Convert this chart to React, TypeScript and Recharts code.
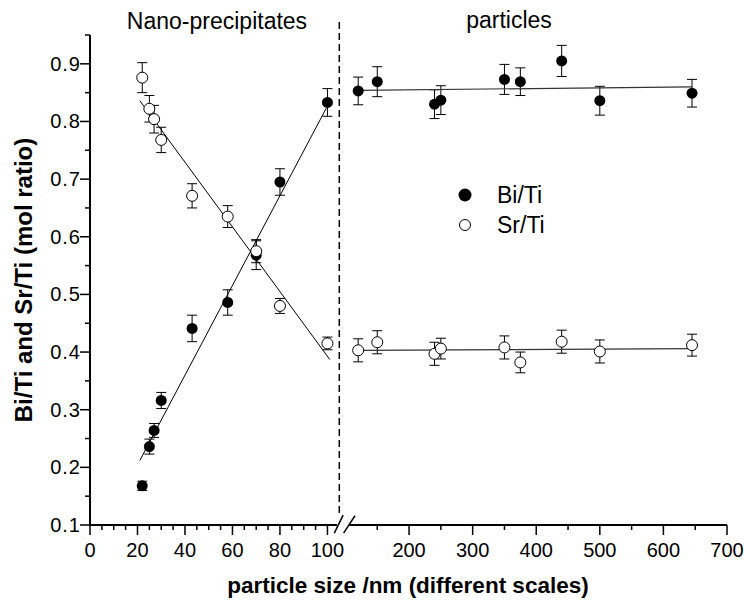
import React from 'react';
import { ScatterChart, Scatter, XAxis, YAxis, ErrorBar, ReferenceLine } from 'recharts';

const FONT = '"Liberation Sans", Arial, Helvetica, sans-serif';

// nano-precipitates (left, 0-100 nm scale)
const nanoSize = [22, 25, 27, 30, 43, 58, 70, 80, 100];
const nanoBiTi = [0.168, 0.236, 0.264, 0.316, 0.441, 0.486, 0.568, 0.695, 0.833];
const nanoBiErr = [0.008, 0.013, 0.012, 0.014, 0.023, 0.022, 0.025, 0.023, 0.024];
const nanoSrTi = [0.876, 0.822, 0.804, 0.768, 0.671, 0.635, 0.575, 0.48, 0.415];
const nanoSrErr = [0.026, 0.023, 0.024, 0.022, 0.021, 0.019, 0.02, 0.013, 0.011];

// particles (right, 100-700 nm scale)
const partSize = [120, 150, 240, 250, 350, 375, 440, 500, 645];
const partBiTi = [0.853, 0.869, 0.83, 0.837, 0.873, 0.869, 0.905, 0.836, 0.849];
const partBiErr = [0.024, 0.026, 0.025, 0.025, 0.026, 0.024, 0.027, 0.025, 0.024];
const partSrTi = [0.403, 0.417, 0.397, 0.406, 0.408, 0.382, 0.418, 0.401, 0.412];
const partSrErr = [0.02, 0.02, 0.02, 0.018, 0.02, 0.018, 0.02, 0.02, 0.019];

// fitted lines (end points)
const nanoBiFitX = [21, 99.5];
const nanoBiFitY = [0.212, 0.823];
const nanoSrFitX = [21, 101];
const nanoSrFitY = [0.836, 0.387];
const partBiFitX = [120, 645];
const partBiFitY = [0.854, 0.86];
const partSrFitX = [120, 645];
const partSrFitY = [0.403, 0.406];

// ticks
const nanoMajor = [0, 20, 40, 60, 80, 100];
const nanoMinor = [5, 10, 15, 25, 30, 35, 45, 50, 55, 65, 70, 75, 85, 90, 95];
const partMajor = [200, 300, 400, 500, 600, 700];
const partMinor = [150, 250, 350, 450, 550, 650];
const yMajor = [0.1, 0.2, 0.3, 0.4, 0.5, 0.6, 0.7, 0.8, 0.9];
const yMinor = [0.15, 0.25, 0.35, 0.45, 0.55, 0.65, 0.75, 0.85, 0.95];

// broken axis: nano values map 1:1, particle values are compressed after the break
const BREAK_U = 105;
const PART_ORIGIN_U = 107.6;
const PART_RATIO = 0.2678;
const nanoU = (v: number) => v;
const partU = (v: number) => PART_ORIGIN_U + (v - 100) * PART_RATIO;
const U_MAX = partU(700);

const points = (xs: number[], ys: number[], errs: number[], toU: (v: number) => number) =>
  xs.map((x, i) => ({ u: toU(x), y: ys[i], err: errs[i] }));
const fit = (xs: number[], ys: number[], toU: (v: number) => number) =>
  xs.map((x, i) => ({ u: toU(x), y: ys[i] }));

const biData = [
  ...points(nanoSize, nanoBiTi, nanoBiErr, nanoU),
  ...points(partSize, partBiTi, partBiErr, partU),
];
const srData = [
  ...points(nanoSize, nanoSrTi, nanoSrErr, nanoU),
  ...points(partSize, partSrTi, partSrErr, partU),
];

const xTickDefs = [
  ...nanoMajor.map((v) => ({ u: nanoU(v), label: String(v), major: true })),
  ...nanoMinor.map((v) => ({ u: nanoU(v), label: '', major: false })),
  ...partMajor.map((v) => ({ u: partU(v), label: String(v), major: true })),
  ...partMinor.map((v) => ({ u: partU(v), label: '', major: false })),
].sort((a, b) => a.u - b.u);

const yTicks = [...yMajor, ...yMinor].sort((a, b) => a - b);

const XTick = (props: any) => {
  const { x, y, payload } = props;
  const def = xTickDefs.find((d) => Math.abs(d.u - payload.value) < 1e-6);
  if (!def) return null;
  return (
    <g>
      <line x1={x} y1={y} x2={x} y2={y + (def.major ? 10 : 5)} stroke="#000" strokeWidth={1.5} />
      {def.major && (
        <text x={x} y={y + 32} textAnchor="middle" fontFamily={FONT} fontSize={20} fill="#000">
          {def.label}
        </text>
      )}
    </g>
  );
};

const YTick = (props: any) => {
  const { x, y, payload } = props;
  const major = yMajor.some((v) => Math.abs(v - payload.value) < 1e-6);
  return (
    <g>
      <line x1={x - (major ? 10 : 5)} y1={y} x2={x} y2={y} stroke="#000" strokeWidth={1.5} />
      {major && (
        <text x={x - 9} y={y + 7} textAnchor="end" fontFamily={FONT} fontSize={20} letterSpacing={1} fill="#000">
          {payload.value.toFixed(1)}
        </text>
      )}
    </g>
  );
};

const FilledDot = (p: any) => <circle cx={p.cx} cy={p.cy} r={5.5} fill="#000" />;
const OpenDot = (p: any) => <circle cx={p.cx} cy={p.cy} r={5.5} fill="#fff" stroke="#000" strokeWidth={1} />;
const NoDot = () => <g />;

const App: React.FC = () => {
  return (
    <div style={{ position: 'absolute', left: 0, top: 0, width: 744, height: 603, background: '#fff' }}>
      <ScatterChart width={744} height={603} margin={{ top: 35, right: 17, bottom: 0, left: 0 }}>
        <XAxis
          type="number"
          dataKey="u"
          domain={[0, U_MAX]}
          ticks={xTickDefs.map((d) => d.u)}
          interval={0}
          height={78}
          axisLine={false}
          tickLine={false}
          tickSize={0}
          tickMargin={0}
          tick={<XTick />}
        />
        <YAxis
          type="number"
          dataKey="y"
          domain={[0.1, 0.95]}
          ticks={yTicks}
          interval={0}
          width={90}
          axisLine={{ stroke: '#000', strokeWidth: 2 }}
          tickLine={false}
          tickSize={0}
          tickMargin={0}
          tick={<YTick />}
        />

        {/* broken x axis */}
        <ReferenceLine segment={[{ x: 0, y: 0.1 }, { x: BREAK_U - 1, y: 0.1 }]} stroke="#000" strokeWidth={2} ifOverflow="visible" />
        <ReferenceLine segment={[{ x: BREAK_U + 4, y: 0.1 }, { x: U_MAX, y: 0.1 }]} stroke="#000" strokeWidth={2} ifOverflow="visible" />
        <ReferenceLine segment={[{ x: BREAK_U - 2.1, y: 0.086 }, { x: BREAK_U + 1.6, y: 0.117 }]} stroke="#000" strokeWidth={1.5} ifOverflow="visible" />
        <ReferenceLine segment={[{ x: BREAK_U + 1.8, y: 0.086 }, { x: BREAK_U + 6.6, y: 0.116 }]} stroke="#000" strokeWidth={1.5} ifOverflow="visible" />
        <ReferenceLine
          segment={[{ x: BREAK_U, y: 0.121 }, { x: BREAK_U, y: 0.975 }]}
          stroke="#000"
          strokeWidth={1.5}
          strokeDasharray="7 4"
          ifOverflow="visible"
        />

        {/* fitted lines */}
        <Scatter data={fit(nanoBiFitX, nanoBiFitY, nanoU)} line={{ stroke: '#000', strokeWidth: 1 }} shape={<NoDot />} isAnimationActive={false} />
        <Scatter data={fit(nanoSrFitX, nanoSrFitY, nanoU)} line={{ stroke: '#000', strokeWidth: 1 }} shape={<NoDot />} isAnimationActive={false} />
        <Scatter data={fit(partBiFitX, partBiFitY, partU)} line={{ stroke: '#333', strokeWidth: 1.2 }} shape={<NoDot />} isAnimationActive={false} />
        <Scatter data={fit(partSrFitX, partSrFitY, partU)} line={{ stroke: '#333', strokeWidth: 1.2 }} shape={<NoDot />} isAnimationActive={false} />

        <Scatter name="Bi/Ti" data={biData} shape={<FilledDot />} isAnimationActive={false}>
          <ErrorBar dataKey="err" direction="y" width={5} stroke="#000" strokeWidth={1} />
        </Scatter>
        <Scatter name="Sr/Ti" data={srData} shape={<OpenDot />} isAnimationActive={false}>
          <ErrorBar dataKey="err" direction="y" width={5} stroke="#000" strokeWidth={1} />
        </Scatter>
      </ScatterChart>

      <svg width={744} height={603} style={{ position: 'absolute', left: 0, top: 0, pointerEvents: 'none' }}>
        <text x={217} y={29} textAnchor="middle" fontFamily={FONT} fontSize={23}>Nano-precipitates</text>
        <text x={509} y={28} textAnchor="middle" fontFamily={FONT} fontSize={23}>particles</text>

        <circle cx={465} cy={195} r={6.5} fill="#000" />
        <text x={497} y={203} fontFamily={FONT} fontSize={23}>Bi/Ti</text>
        <circle cx={465} cy={225} r={5.5} fill="#fff" stroke="#000" strokeWidth={1} />
        <text x={497} y={233} fontFamily={FONT} fontSize={23}>Sr/Ti</text>

        <text x={408} y={593} textAnchor="middle" fontFamily={FONT} fontSize={22.5} fontWeight="bold">
          particle size /nm (different scales)
        </text>
        <text x={32} y={280} textAnchor="middle" fontFamily={FONT} fontSize={24} fontWeight="bold" transform="rotate(-90 32 280)">
          Bi/Ti and Sr/Ti (mol ratio)
        </text>
      </svg>
    </div>
  );
};

export default App;
